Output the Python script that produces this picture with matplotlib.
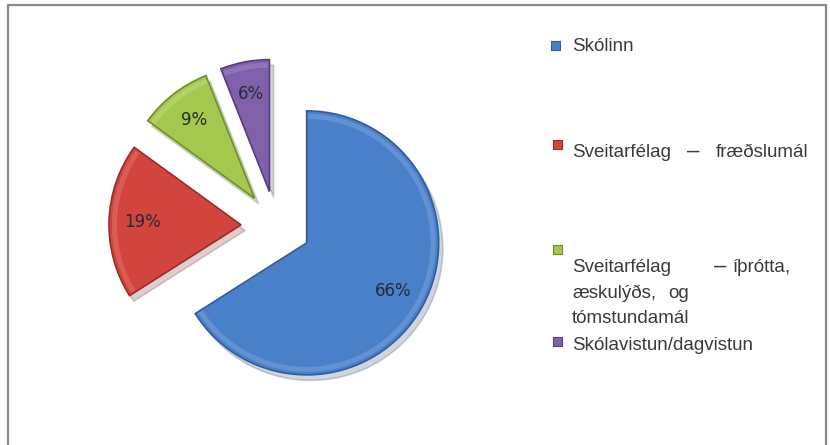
import matplotlib.pyplot as plt
from matplotlib.patches import Rectangle, Wedge

# data
categories = ['Skólinn', 'Sveitarfélag – fræðslumál',
              'Sveitarfélag – íþrótta, æskulýðs, og tómstundamál',
              'Skólavistun/dagvistun']
values = [66, 19, 9, 6]
colors = ['#4a80c9', '#d2443e', '#a4c84d', '#8060aa']
edge_colors = ['#2f5d9c', '#9c2c27', '#6e9028', '#563d80']
highlight = ['#8fb4e6', '#ec8a85', '#cfe495', '#b39bd2']

# legend text split the way the original (justified) box shows it
legend_words = [
    [['Skólinn']],
    [['Sveitarfélag', '–', 'fræðslumál']],
    [['Sveitarfélag', '–', 'íþrótta,'], ['æskulýðs,', 'og'], ['tómstundamál']],
    [['Skólavistun/dagvistun']],
]

W, H = 830, 445

# layout (pixels from top-left of the picture)
pie_center = (276, 226)
pie_radius = 132
explode_px = 35
square_pos = [(551, 41), (553, 140), (553, 245), (553, 337)]
word_x = [
    [[572]],
    [[572, 687, 716]],
    [[572, 714, 733], [572, 668], [572]],
    [[572]],
]
line_base = [[51], [157], [272, 298, 323], [350]]


def py(y):
    return H - y


fig = plt.figure(figsize=(W / 100, H / 100), dpi=100)
ax = fig.add_axes([0, 0, 1, 1])

wedges, texts, autotexts = ax.pie(
    values, colors=colors, startangle=90, counterclock=False,
    radius=pie_radius, center=(pie_center[0], py(pie_center[1])),
    explode=[explode_px] * len(values),
    autopct='%.0f%%', pctdistance=0.75,
    shadow={'ox': 3, 'oy': -4, 'shade': 0.5, 'alpha': 0.22},
    wedgeprops=dict(linewidth=1.2),
    textprops=dict(fontsize=12, color='#262a3a', family='DejaVu Sans'))

for w, ec, hl in zip(wedges, edge_colors, highlight):
    w.set_edgecolor(ec)
    w.set_zorder(2)
    # soft bevel along the rim
    ax.add_patch(Wedge(w.center, w.r - 3, w.theta1 + 0.6, w.theta2 - 0.6,
                       width=5, facecolor=hl, edgecolor='none', alpha=0.35, zorder=3))
for t in autotexts:
    t.set_zorder(5)

# legend
for (sx, sy), col, ec in zip(square_pos, colors, edge_colors):
    ax.add_patch(Rectangle((sx, py(sy + 9)), 9, 9, facecolor=col, edgecolor=ec,
                           linewidth=0.8, zorder=4))

for words, xs, bases in zip(legend_words, word_x, line_base):
    for line, lx, yb in zip(words, xs, bases):
        for word, x in zip(line, lx):
            size = 16 if word == '–' else 13.5
            ax.text(x, py(yb), word, fontsize=size, family='Liberation Sans',
                    color='#3a3a3a', va='baseline', ha='left')

# chart frame
ax.add_patch(Rectangle((8, -10), 818, py(5) + 10, facecolor='none',
                       edgecolor='#8a8a8a', linewidth=1.6, zorder=1))

ax.set_xlim(0, W)
ax.set_ylim(0, H)
ax.set_aspect('equal')
ax.axis('off')

fig.savefig('out.png', dpi=100, facecolor='white')
